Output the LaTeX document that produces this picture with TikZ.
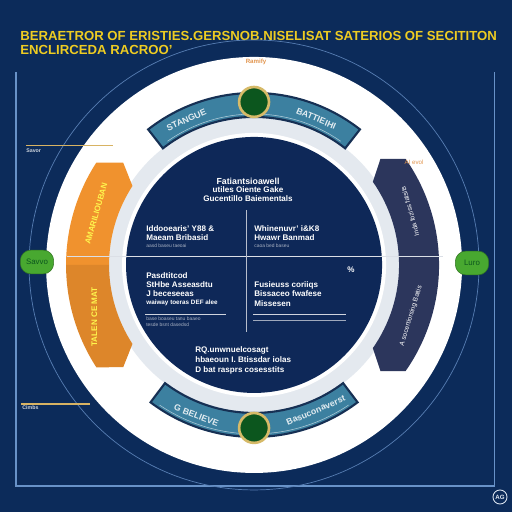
\documentclass[tikz,border=0pt]{standalone}
\usepackage{fontspec}
\setmainfont{Liberation Sans}
\usetikzlibrary{calc}

\definecolor{navybg}{RGB}{12,43,90}
\definecolor{navydisk}{RGB}{14,40,88}
\definecolor{titleyel}{RGB}{238,204,34}
\definecolor{tealarc}{RGB}{60,128,160}
\definecolor{tealedge}{RGB}{22,48,84}
\definecolor{orangearc}{RGB}{240,146,46}
\definecolor{darkarc}{RGB}{44,54,92}
\definecolor{pillgreen}{RGB}{72,168,48}
\definecolor{gemgreen}{RGB}{12,86,30}
\definecolor{gold}{RGB}{214,186,104}
\definecolor{frameblue}{RGB}{104,146,200}
\definecolor{ringgray}{RGB}{228,233,239}
\definecolor{labelorange}{RGB}{226,150,80}

\tikzset{
  title/.style={text=titleyel, font=\bfseries\fontsize{7.5}{8}\selectfont, anchor=west, inner sep=0pt},
  txt/.style={text=white, font=\bfseries\fontsize{4.6}{5}\selectfont, anchor=west, inner sep=0pt},
  tinytxt/.style={text=white!65!navydisk, font=\fontsize{2.8}{3}\selectfont, anchor=west, inner sep=0pt},
  arctxt/.style={font=\bfseries\fontsize{5}{6}\selectfont, inner sep=0pt},
  gem/.style={circle, fill=gemgreen, draw=gold, line width=1.5pt, minimum size=17pt, inner sep=0pt},
  pill/.style={rounded corners=6pt, fill=pillgreen, draw=pillgreen!70!black, line width=0.3pt,
    minimum width=19pt, minimum height=13.5pt, inner sep=0pt, text=gemgreen,
    font=\fontsize{4.5}{5}\selectfont},
  frameline/.style={frameblue, line width=0.6pt},
  sidelabel/.style={text=white!80!navybg, font=\bfseries\fontsize{3}{3.5}\selectfont, anchor=west, inner sep=0pt}
}

\begin{document}
\begin{tikzpicture}[scale=0.02]
  \def\Cx{254}
  \def\Cy{247}

  % background
  \fill[navybg] (0,0) rectangle (512,512);
  \useasboundingbox (0,0) rectangle (512,512);

  % frame
  \coordinate (fa) at (16,440);
  \coordinate (fb) at (16,26);
  \coordinate (fc) at (494,26);
  \coordinate (fd) at (494,440);
  \draw[frameline] (fa) -- (fb) -- (fc) -- (fd);

  % title
  \node[title] (title) at (20,476) {BERAETROR OF ERISTIES.GERSNOB.NISELISAT SATERIOS OF SECITITON};
  \node[title] (subtitle) at (20,462) {ENCLIRCEDA RACROO'};

  \coordinate (C) at (\Cx,\Cy);

  % guide circle
  \draw[frameblue!80!navybg, line width=0.4pt] (C) circle (225);

  % white ring
  \fill[white] (C) circle (208);
  \fill[ringgray] (C) circle (148);
  \fill[white] (C) circle (132);
  \fill[navydisk] (C) circle (128);

  \begin{scope}[shift={(C)}]
    % orange arcs (left)
    \fill[orangearc] (180:145) arc[start angle=180, end angle=147, radius=145]
      -- (142:166) -- (147:188) arc[start angle=147, end angle=180, radius=188] -- cycle;
    \fill[orangearc!92!black] (180:145) arc[start angle=180, end angle=213, radius=145]
      -- (218:166) -- (213:188) arc[start angle=213, end angle=180, radius=188] -- cycle;
    % dark arcs (right)
    \fill[darkarc] (0:145) arc[start angle=0, end angle=35, radius=145]
      -- (40:165) -- (35:185) arc[start angle=35, end angle=0, radius=185] -- cycle;
    \fill[darkarc] (0:145) arc[start angle=0, end angle=-35, radius=145]
      -- (-40:165) -- (-35:185) arc[start angle=-35, end angle=0, radius=185] -- cycle;
    % teal arcs (top, bottom)
    \draw[fill=tealarc, draw=tealedge, line width=1.2pt] (52:148) arc[start angle=52, end angle=128, radius=148]
      -- (128:172) arc[start angle=128, end angle=52, radius=172] -- cycle;
    \draw[fill=tealarc, draw=tealedge, line width=1.2pt] (233:148) arc[start angle=233, end angle=307, radius=148]
      -- (307:172) arc[start angle=307, end angle=233, radius=172] -- cycle;
    \draw[white!60!tealarc, line width=0.3pt] (55:151) arc[start angle=55, end angle=125, radius=151];
    \draw[white!60!tealarc, line width=0.3pt] (236:169) arc[start angle=236, end angle=304, radius=169];

    % arc labels
    \node[arctxt, text=white!85!tealarc, rotate=24] (tl) at (115:160) {STANGUE};
    \node[arctxt, text=white!85!tealarc, rotate=-23] (tr) at (67:159) {BATTIEIHI};
    \node[arctxt, text=white!85!tealarc, rotate=-21] (bl) at (249:161) {G BELIEVE};
    \node[arctxt, text=white!85!tealarc, rotate=23] (br) at (293:158) {Basuconaverst};
    \node[arctxt, text=yellow!70!white, rotate=74, font=\bfseries\fontsize{4.6}{5}\selectfont] (ol) at (162:166) {AMARILIOUBAN};
    \node[arctxt, text=yellow!70!white, rotate=90, font=\bfseries\fontsize{4.6}{5}\selectfont] (ou) at (198:168) {TALEN CE MAT};
    \node[arctxt, text=white, rotate=106, font=\fontsize{3.8}{4}\selectfont] (dl) at (19:165) {Inda foziss fatsits};
    \node[arctxt, text=white, rotate=73, font=\fontsize{3.8}{4}\selectfont] (du) at (-18:165) {A socertiorsing Baitis};

    % gems
    \node[gem] (gtop) at (90:163) {};
    \node[gem] (gbot) at (270:163) {};
  \end{scope}

  % dividers
  \coordinate (hl) at (67,255);
  \coordinate (hr) at (443,255);
  \draw[white!85!navydisk, line width=0.6pt] (hl) -- (hr);
  \coordinate (vt) at (246,302);
  \coordinate (vb) at (246,180);
  \draw[white!70!navydisk, line width=0.5pt] (vt) -- (vb);

  % pills
  \node[pill] (pl) at (37,250) {Savvo};
  \node[pill] (pr) at (472,249) {Luro};

  % top block
  \node[txt, anchor=center, font=\bfseries\fontsize{5}{6}\selectfont] (h1) at (248,331) {Fatiantsioawell};
  \node[txt, anchor=center] (h2) at (248,322) {utiles Oiente Gake};
  \node[txt, anchor=center] (h3) at (248,313) {Gucentillo Baiementals};

  % upper quadrants
  \node[txt] (q1a) at (146,283) {Iddooearis' Y88 \&};
  \node[txt] (q1b) at (146,274) {Maeam Bribasid};
  \node[tinytxt] (q1c) at (146,266) {aasd baseu taeoai};
  \node[txt] (q2a) at (254,283) {Whinenuvr' i\&K8};
  \node[txt] (q2b) at (254,274) {Hwawr Banmad};
  \node[tinytxt] (q2c) at (254,266) {caoa bed baseu};

  % lower quadrants
  \node[txt] (q3a) at (146,236) {Pasdtitcod};
  \node[txt] (q3b) at (146,227) {StHbe Asseasdtu};
  \node[txt] (q3c) at (146,218) {J beceseeas};
  \node[txt, font=\bfseries\fontsize{3.6}{4}\selectfont] (q3d) at (146,209) {waiway toeras DEF alee};
  \coordinate (l3a) at (145,198);
  \coordinate (l3b) at (226,198);
  \draw[white!80!navydisk, line width=0.4pt] (l3a) -- (l3b);
  \node[tinytxt] (q3e) at (146,193) {base boaseu tanu baaeo};
  \node[tinytxt] (q3f) at (146,187) {tesde bsnt dasedsd};
  \node[txt] (pct) at (347,242) {\%};
  \node[txt] (q4a) at (254,227) {Fusieuss coriiqs};
  \node[txt] (q4b) at (254,218) {Bissaceo fwafese};
  \node[txt] (q4c) at (254,208) {Missesen};
  \coordinate (l4a) at (253,198);
  \coordinate (l4b) at (346,198);
  \coordinate (l4c) at (253,192);
  \coordinate (l4d) at (346,192);
  \draw[white!80!navydisk, line width=0.4pt] (l4a) -- (l4b);
  \draw[white!60!navydisk, line width=0.3pt] (l4c) -- (l4d);

  % bottom block
  \node[txt] (b1) at (195,162) {RQ.unwnuelcosagt};
  \node[txt] (b2) at (195,152) {hbaeoun I. Btissdar iolas};
  \node[txt] (b3) at (195,142) {D bat rasprs cosesstits};

  % small side labels
  \node[text=labelorange, font=\bfseries\fontsize{3.5}{4}\selectfont, inner sep=0pt] (ramify) at (256,450) {Ramify};
  \node[text=labelorange, font=\fontsize{3.5}{4}\selectfont, inner sep=0pt] (aievol) at (414,350) {AI evol};
  \coordinate (sl1) at (26,366);
  \coordinate (sl2) at (113,366);
  \draw[gold!80!labelorange, line width=0.6pt] (sl1) -- (sl2);
  \node[sidelabel] (savor) at (26,361) {Savor};
  \coordinate (sl3) at (21,108);
  \coordinate (sl4) at (90,108);
  \draw[gold!80!labelorange, line width=0.6pt] (sl3) -- (sl4);
  \node[sidelabel] (cimbs) at (22,104) {Cimbs};

  % logo
  \node[circle, draw=white!80!frameblue, line width=0.5pt, minimum size=8pt, inner sep=0pt,
    text=white!80!frameblue, font=\bfseries\fontsize{3.5}{4}\selectfont] (logo) at (500,15) {AG};
\end{tikzpicture}
\end{document}
